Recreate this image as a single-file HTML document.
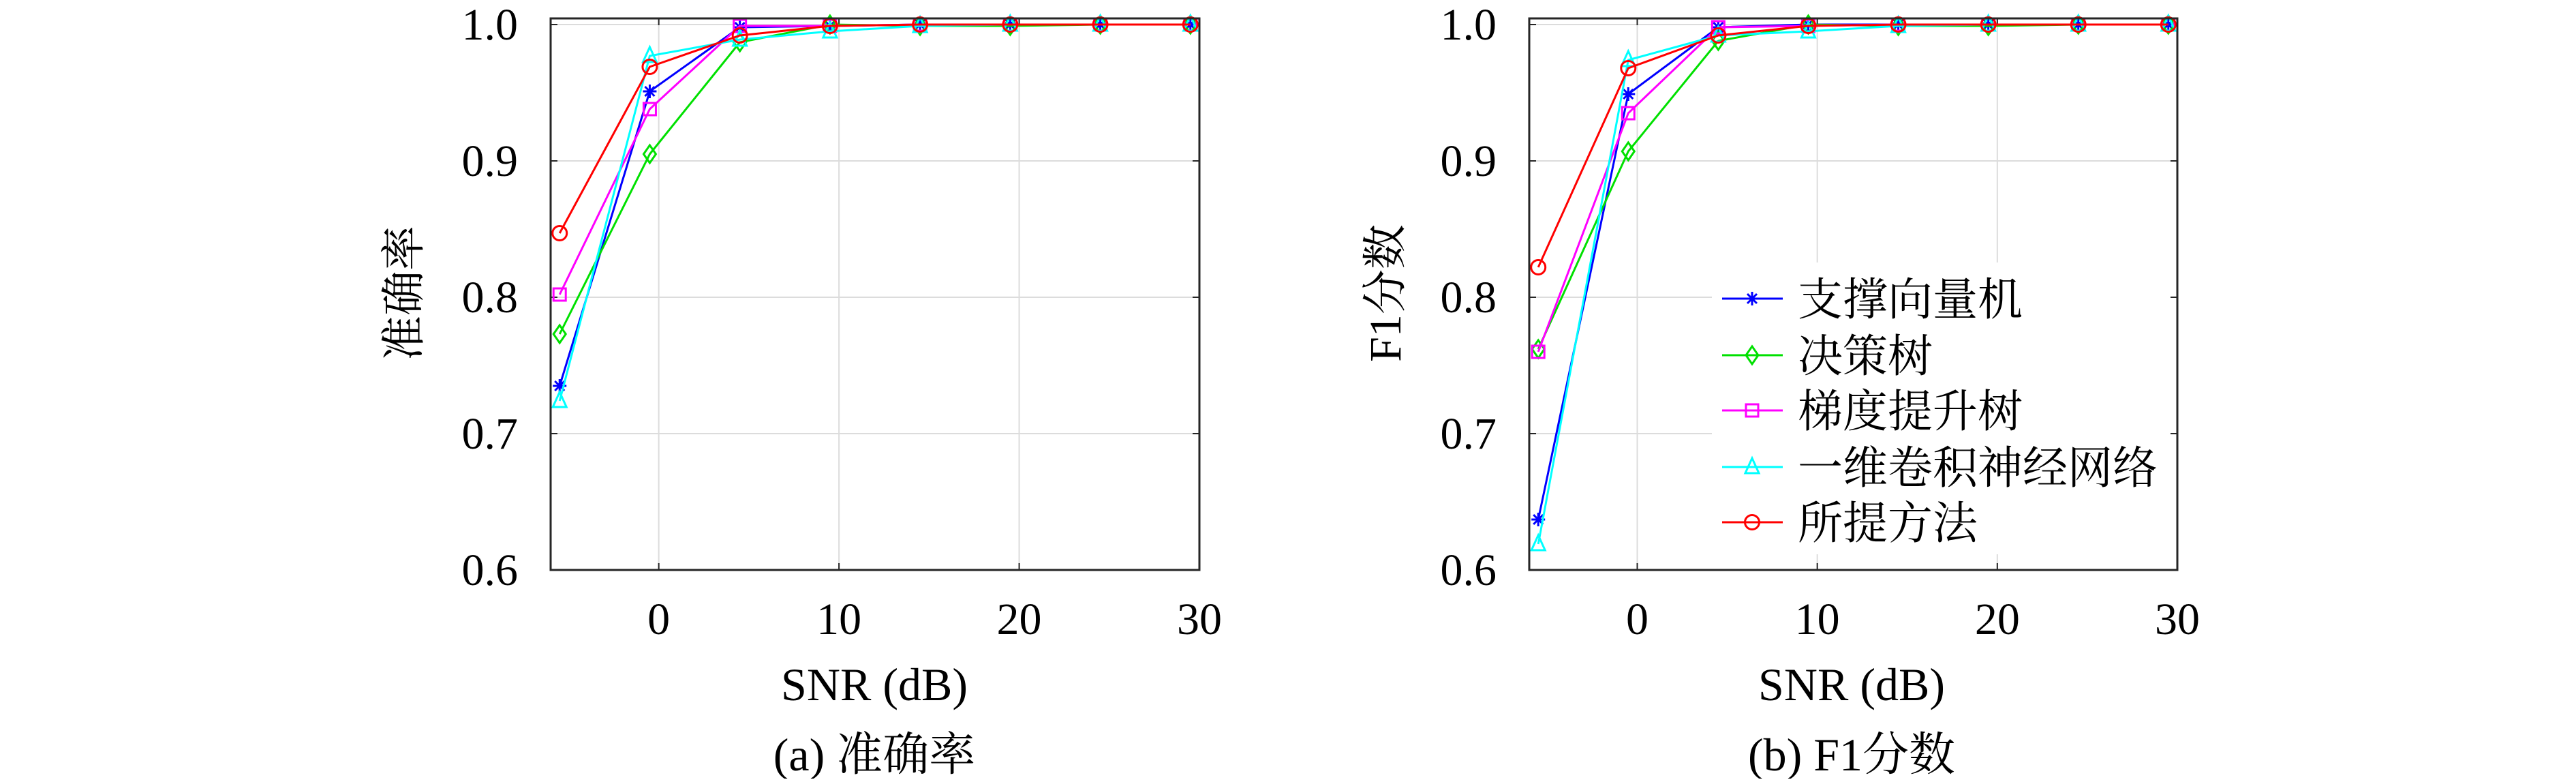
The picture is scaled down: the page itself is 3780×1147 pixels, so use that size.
<!DOCTYPE html>
<html><head><meta charset="utf-8">
<style>
html,body{margin:0;padding:0;background:#fff;}
body{width:3780px;height:1142px;overflow:hidden;font-family:"Liberation Serif","Times New Roman","DejaVu Serif","Noto Serif CJK SC",serif;}
text{font-family:"Liberation Serif","Times New Roman","DejaVu Serif","Noto Serif CJK SC","Noto Serif CJK JP",serif;}
</style></head>
<body>
<svg id="fig" width="3780" height="1142" viewBox="0 0 3780 1142" xmlns="http://www.w3.org/2000/svg"></svg>
<script>
const snrValues = [-5.5, -0.5, 4.5, 9.5, 14.5, 19.5, 24.5, 29.5];
const xTicks = [0, 10, 20, 30];
const yTicks = [0.6, 0.7, 0.8, 0.9, 1.0];
const seriesNames = ["支撑向量机", "决策树", "梯度提升树", "一维卷积神经网络", "所提方法"];
const accSVM  = [0.735, 0.951, 0.998, 0.999, 1.0, 1.0, 1.0, 1.0];
const accDT   = [0.773, 0.905, 0.987, 1.0, 0.999, 0.999, 1.0, 1.0];
const accGBT  = [0.802, 0.938, 0.999, 0.999, 1.0, 1.0, 1.0, 1.0];
const accCNN  = [0.724, 0.977, 0.989, 0.995, 0.999, 1.0, 1.0, 1.0];
const accProp = [0.847, 0.969, 0.992, 0.999, 1.0, 1.0, 1.0, 1.0];
const f1SVM  = [0.637, 0.949, 0.998, 1.0, 1.0, 1.0, 1.0, 1.0];
const f1DT   = [0.762, 0.907, 0.988, 1.0, 0.999, 0.999, 1.0, 1.0];
const f1GBT  = [0.760, 0.935, 0.998, 0.999, 1.0, 1.0, 1.0, 1.0];
const f1CNN  = [0.619, 0.974, 0.992, 0.995, 0.999, 1.0, 1.0, 1.0];
const f1Prop = [0.822, 0.968, 0.992, 0.999, 1.0, 1.0, 1.0, 1.0];

const NS = "http://www.w3.org/2000/svg";
const FONT = "'Liberation Serif', 'Times New Roman', 'DejaVu Serif', 'Noto Serif CJK SC', 'Noto Sans CJK SC', serif";
const svg = document.getElementById("fig");
const colors = ["#0000ff", "#00e000", "#ff00ff", "#00ffff", "#ff0000"];
const markers = ["star", "diamond", "square", "triangle", "circle"];
const keys = ["svm", "decision-tree", "gradient-boosting", "cnn-1d", "proposed"];

function mk(tag, attrs, parent) {
  const e = document.createElementNS(NS, tag);
  for (const k in attrs) e.setAttribute(k, attrs[k]);
  if (tag === "text") e.style.fontFamily = FONT;
  (parent || svg).appendChild(e);
  return e;
}

function drawMarker(g, type, cx, cy, color) {
  const s = 10;
  let m;
  if (type === "circle") m = mk("circle", {cx: cx, cy: cy, r: 10.5, fill: "none", stroke: color, "stroke-width": 3}, g);
  else if (type === "square") m = mk("rect", {x: cx - 9, y: cy - 9, width: 18, height: 18, fill: "none", stroke: color, "stroke-width": 3}, g);
  else if (type === "diamond") m = mk("polygon", {points: `${cx},${cy-13} ${cx+9},${cy} ${cx},${cy+13} ${cx-9},${cy}`, fill: "none", stroke: color, "stroke-width": 3}, g);
  else if (type === "triangle") m = mk("polygon", {points: `${cx},${cy-13} ${cx+10},${cy+9} ${cx-10},${cy+9}`, fill: "none", stroke: color, "stroke-width": 3}, g);
  else {
    m = mk("path", {d: `M${cx-s},${cy}H${cx+s}M${cx},${cy-s}V${cy+s}M${cx-7},${cy-7}L${cx+7},${cy+7}M${cx-7},${cy+7}L${cx+7},${cy-7}`, stroke: color, "stroke-width": 3, fill: "none"}, g);
  }
  return m;
}

function drawPanel(opt) {
  const L = opt.left, R = opt.right, T = 27, B = 836;
  const xMin = -6, xMax = 30;
  const y10 = 36, yPer = 2000;
  const X = v => L + (v - xMin) / (xMax - xMin) * (R - L);
  const Y = v => y10 + (1.0 - v) * yPer;
  const g = mk("g", {});
  
  
  mk("rect", {x: L, y: T, width: R - L, height: B - T, fill: "#fff"}, g);
  xTicks.forEach(t => {
    const l = mk("line", {x1: X(t), x2: X(t), y1: T, y2: B, stroke: "#dcdcdc", "stroke-width": 2}, g);
    
    
  });
  yTicks.forEach(t => {
    const l = mk("line", {x1: L, x2: R, y1: Y(t), y2: Y(t), stroke: "#dcdcdc", "stroke-width": 2}, g);
    
    
  });
  if (opt.legend) {
    const lb = mk("rect", {x: 2512, y: 385, width: R - 2514, height: 428, fill: "#fff"}, g);
    
    
  }
  xTicks.forEach(t => {
    mk("line", {x1: X(t), x2: X(t), y1: B, y2: B - 10, stroke: "#262626", "stroke-width": 2}, g);
    mk("line", {x1: X(t), x2: X(t), y1: T, y2: T + 10, stroke: "#262626", "stroke-width": 2}, g);
    const tx = mk("text", {x: X(t), y: 930, "font-size": 66, "text-anchor": "middle"}, g);
    tx.textContent = String(t);
    
    
  });
  yTicks.forEach(t => {
    mk("line", {x1: L, x2: L + 10, y1: Y(t), y2: Y(t), stroke: "#262626", "stroke-width": 2}, g);
    mk("line", {x1: R, x2: R - 10, y1: Y(t), y2: Y(t), stroke: "#262626", "stroke-width": 2}, g);
    const tx = mk("text", {x: opt.yLabelRight, y: Y(t) + 22, "font-size": 66, "text-anchor": "end"}, g);
    tx.textContent = t.toFixed(1);
    
    
  });
  opt.series.forEach((vals, i) => {
    const sg = mk("g", {}, g);
    
    
    const pts = vals.map((v, j) => X(snrValues[j]) + "," + Y(v)).join(" ");
    const pl = mk("polyline", {points: pts, fill: "none", stroke: colors[i], "stroke-width": 3, "stroke-linejoin": "round"}, sg);
    
    
    vals.forEach((v, j) => {
      const m = drawMarker(sg, markers[i], X(snrValues[j]), Y(v), colors[i]);
      
      
    });
  });
  const box = mk("rect", {x: L, y: T, width: R - L, height: B - T, fill: "none", stroke: "#262626", "stroke-width": 3}, g);
  
  
  if (opt.legend) {
    const ys = [438, 521, 602, 685, 766];
    seriesNames.forEach((n, i) => {
      const eg = mk("g", {}, g);
      
      
      mk("line", {x1: 2527, x2: 2616, y1: ys[i], y2: ys[i], stroke: colors[i], "stroke-width": 3}, eg);
      drawMarker(eg, markers[i], 2571, ys[i], colors[i]);
      const t = mk("text", {x: 2638, y: ys[i] + 24, "font-size": 66}, eg);
      t.textContent = n;
    });
  }
  const xl = mk("text", {x: opt.xCenter, y: 1027, "font-size": 68, "text-anchor": "middle"}, g);
  xl.textContent = "SNR (dB)";
  
  
  const yl = mk("text", {x: 0, y: 0, "font-size": 66, "text-anchor": "middle", transform: `translate(${opt.yTitleX},430) rotate(-90)`}, g);
  yl.textContent = opt.yTitle;
  
  
  const cap = mk("text", {x: opt.xCenter, y: 1130, "font-size": 68, "text-anchor": "middle"}, g);
  cap.textContent = opt.caption;
  
  
}

drawPanel({name: "accuracy-chart", left: 808, right: 1760, yLabelRight: 760, xCenter: 1283,
  yTitleX: 615, yTitle: "准确率", caption: "(a) 准确率",
  series: [accSVM, accDT, accGBT, accCNN, accProp], legend: false});
drawPanel({name: "f1-chart", left: 2244, right: 3195, yLabelRight: 2196, xCenter: 2717,
  yTitleX: 2055, yTitle: "F1分数", caption: "(b) F1分数",
  series: [f1SVM, f1DT, f1GBT, f1CNN, f1Prop], legend: true});
</script>
</body></html>
